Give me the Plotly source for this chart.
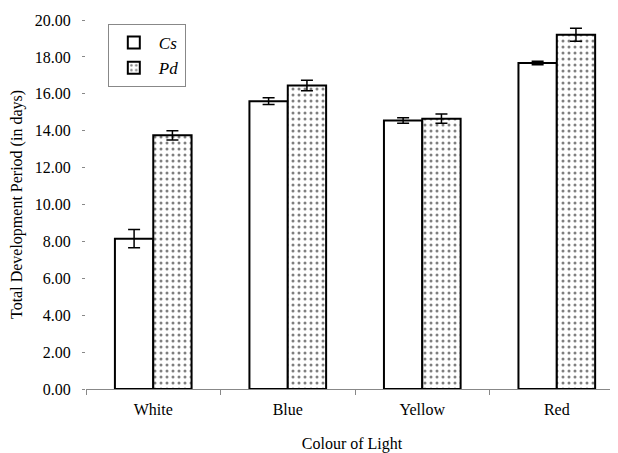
import plotly.graph_objects as go

categories = ["White", "Blue", "Yellow", "Red"]
cs_values = [8.15, 15.6, 14.55, 17.67]
cs_errors = [0.49, 0.18, 0.15, 0.1]
pd_values = [13.75, 16.45, 14.65, 19.2]
pd_errors = [0.25, 0.28, 0.25, 0.35]
y_ticks = [0, 2, 4, 6, 8, 10, 12, 14, 16, 18, 20]

FONT = "Liberation Serif"

fig = go.Figure()
fig.add_trace(go.Bar(
    x=categories, y=cs_values, name="<i>Cs</i>",
    marker=dict(color="white", line=dict(color="black", width=2)),
    error_y=dict(type="data", array=cs_errors, color="black", thickness=1.5, width=6),
))
fig.add_trace(go.Bar(
    x=categories, y=pd_values, name="<i>Pd</i>",
    marker=dict(color="white", line=dict(color="black", width=2),
                pattern=dict(shape=".", fgcolor="black", bgcolor="white", size=6, solidity=0.2)),
    error_y=dict(type="data", array=pd_errors, color="black", thickness=1.5, width=6),
))

fig.update_layout(
    width=610, height=445,
    margin=dict(l=78, r=0, t=12, b=64),
    paper_bgcolor="white", plot_bgcolor="white",
    barmode="group", bargap=0.43, bargroupgap=0,
    font=dict(family=FONT, size=15, color="black"),
    showlegend=True,
    legend=dict(x=0.041, y=0.989, xanchor="left", yanchor="top",
                bordercolor="#888888", borderwidth=1, bgcolor="white",
                font=dict(family=FONT, size=17), tracegroupgap=0,
                itemwidth=40),
    xaxis=dict(
        range=[-0.5, 3.455], showline=True, linecolor="#888888", linewidth=1,
        ticks="outside", tickson="boundaries", ticklen=5, tickcolor="#888888",
        showgrid=False, zeroline=False, ticklabelstandoff=6,
        tickfont=dict(family=FONT, size=16),
        title=dict(text="Colour of Light", font=dict(family=FONT, size=16), standoff=20),
    ),
    yaxis=dict(
        range=[0, 20], tickvals=y_ticks, tickformat=".2f",
        showline=False, ticks="outside", ticklen=3, tickcolor="#888888",
        showgrid=False, zeroline=False, ticklabelstandoff=8,
        tickfont=dict(family=FONT, size=16),
        title=dict(text="Total Development Period (in days)", font=dict(family=FONT, size=16), standoff=8),
    ),
)

fig.write_html("out.html")
